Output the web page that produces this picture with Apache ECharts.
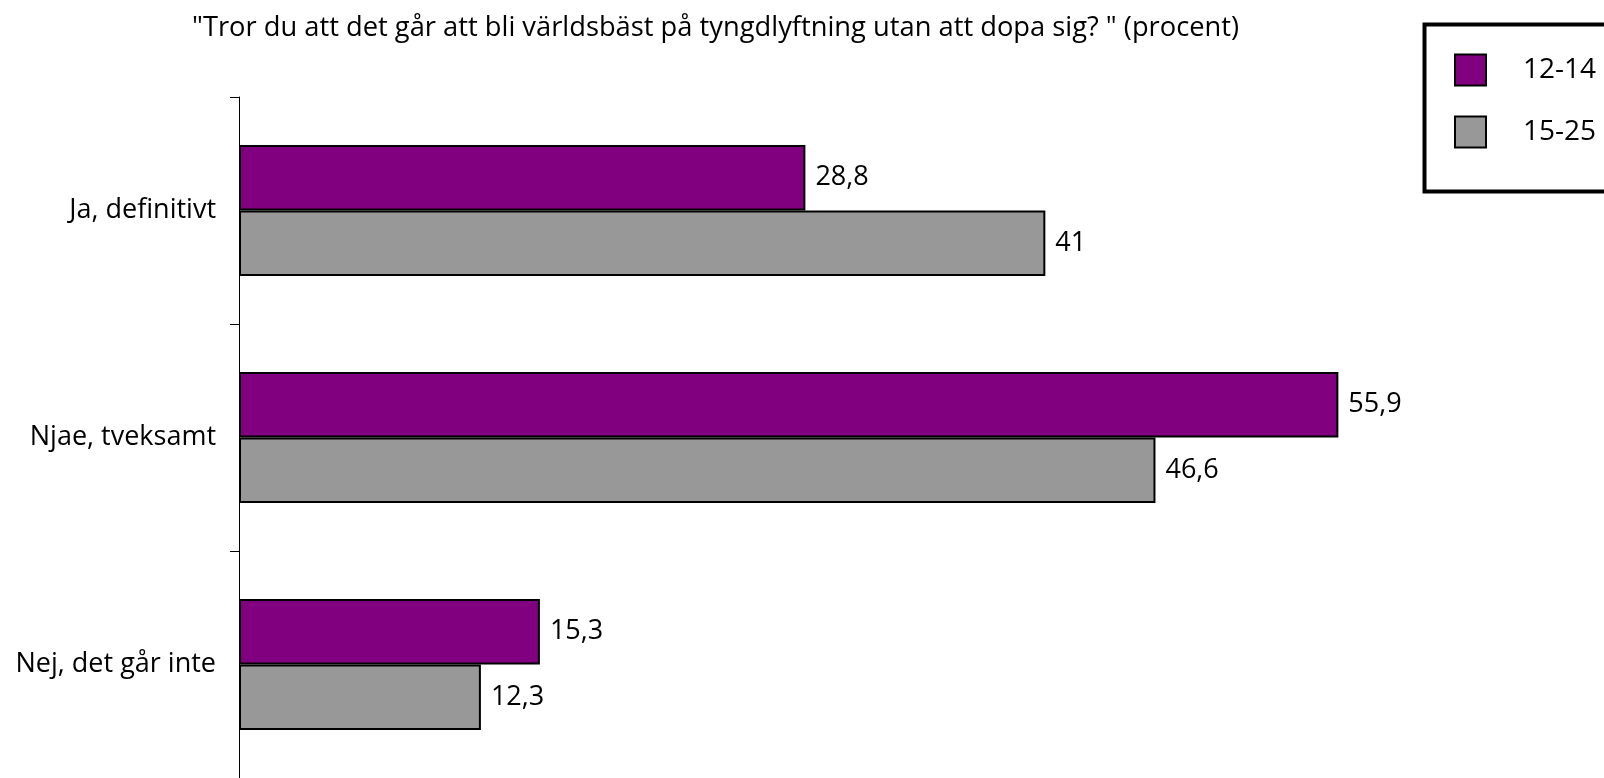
<!DOCTYPE html>
<html>
<head>
<meta charset="utf-8">
<script src="https://cdn.jsdelivr.net/npm/echarts@6/dist/echarts.min.js"></script>
<style>
  html, body { margin: 0; padding: 0; background: #ffffff; }
  #chart { width: 1604px; height: 778px; }
</style>
</head>
<body>
<div id="chart"></div>
<script>
// Survey answers, percent per age group
const titleText = '"Tror du att det går att bli världsbäst på tyngdlyftning utan att dopa sig? " (procent)';
const categories = ['Ja, definitivt', 'Njae, tveksamt', 'Nej, det går inte'];
const seriesNames = ['12-14', '15-25'];
const values1214 = [28.8, 55.9, 15.3];
const values1525 = [41, 46.6, 12.3];

const FONT = '"Open Sans", sans-serif';
const fmt = p => String(p.value).replace('.', ',');

const chart = echarts.init(document.getElementById('chart'), null, { renderer: 'canvas' });

function barSeries(name, data, color) {
  return {
    name: name,
    type: 'bar',
    data: data,
    barWidth: 65.5,
    barGap: '0%',
    itemStyle: { color: color, borderColor: '#000000', borderWidth: 2 },
    label: {
      show: true,
      position: 'right',
      distance: 10,
      formatter: fmt,
      color: '#000000',
      fontFamily: FONT,
      fontSize: 27
    },
    emphasis: { disabled: true },
    animation: false
  };
}

chart.setOption({
  backgroundColor: '#ffffff',
  animation: false,
  title: {
    text: titleText,
    left: 192,
    top: 15,
    padding: 0,
    textStyle: { fontFamily: FONT, fontSize: 27.3, fontWeight: 'normal', color: '#000000' }
  },
  legend: {
    orient: 'vertical',
    left: 1424.5,
    top: 24.5,
    padding: [29, 300, 43, 29.5],
    itemWidth: 31,
    itemHeight: 31,
    itemGap: 29,
    borderColor: '#000000',
    borderWidth: 4,
    backgroundColor: '#ffffff',
    icon: 'rect',
    textStyle: { fontFamily: FONT, fontSize: 28, color: '#000000', padding: [0, 0, 0, 32] },
    data: seriesNames
  },
  grid: { left: 239, top: 97, width: 1180, height: 683 },
  xAxis: {
    type: 'value',
    min: 0,
    max: 60,
    show: false
  },
  yAxis: {
    type: 'category',
    inverse: true,
    data: categories,
    axisLine: { show: true, lineStyle: { color: '#000000', width: 1 } },
    axisTick: { show: true, length: 9, lineStyle: { color: '#000000', width: 1 } },
    axisLabel: { margin: 23, color: '#000000', fontFamily: FONT, fontSize: 27 },
    splitLine: { show: false }
  },
  series: [
    barSeries(seriesNames[0], values1214, '#800080'),
    barSeries(seriesNames[1], values1525, '#989898')
  ]
});
</script>
</body>
</html>
